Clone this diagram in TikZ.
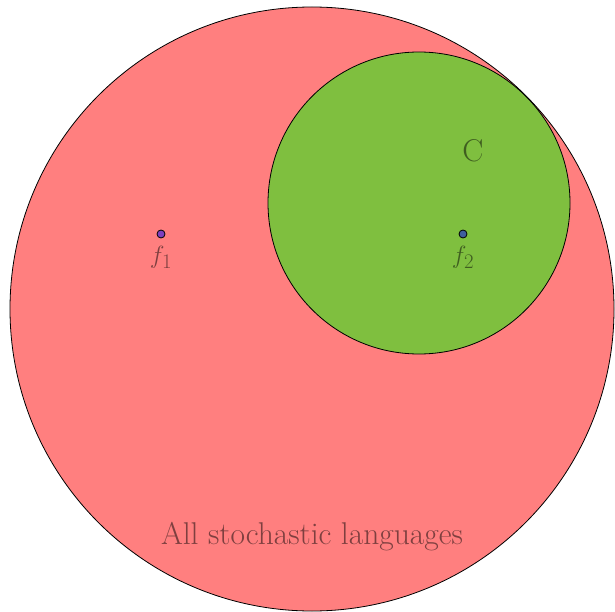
\documentclass[tikz,border=0pt]{standalone}
\begin{document}
\begin{tikzpicture}[x=1pt,y=-1pt,
  region/.style={draw=black,line width=0.8pt},
  dot/.style={circle,draw=black,line width=0.8pt,fill=blue,fill opacity=0.5,draw opacity=1,inner sep=0pt,minimum size=8pt},
  lbl/.style={text=black,text opacity=0.5,font=\fontsize{31.5}{36}\selectfont}]
  \useasboundingbox (0,0) rectangle (615,612);
  % all stochastic languages
  \fill[red,fill opacity=0.5] (312,309) circle (302);
  \draw[region] (312,309) circle (302);
  % class C
  \fill[green,fill opacity=0.5] (419,203) circle (151);
  \draw[region] (419,203) circle (151);
  % distributions
  \node[dot] (f1) at (161,234) {};
  \node[dot] (f2) at (463,234) {};
  \node[lbl] (f1l) at (161,257) {$f_1$};
  \node[lbl] (f2l) at (463,257) {$f_2$};
  \node[lbl] (c) at (473,151) {C};
  \node[lbl] (all) at (312,537) {All stochastic languages};
\end{tikzpicture}
\end{document}
